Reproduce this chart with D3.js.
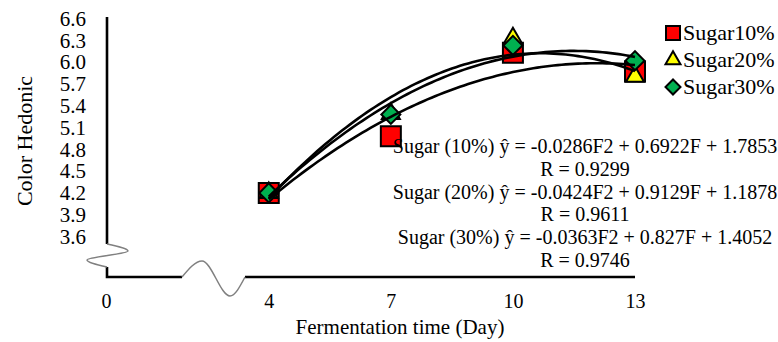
<!DOCTYPE html>
<html>
	<head>
		<meta charset="utf-8">
		<script type="text/javascript" src="https://cdn.jsdelivr.net/npm/d3@7"></script>
		<style>
			body{
				margin:0;
				background:#fff;
			}
			svg text{
				font-family:"Liberation Serif","Times New Roman",serif;
				fill:#000;
			}
		</style>
	</head>
	<body>
		<div id="container"></div>
		<script type="text/javascript">

			// values
			var days = [4, 7, 10, 13];
			var sugar10 = [4.20, 4.98, 6.13, 5.87];
			var sugar20 = [4.20, 5.29, 6.33, 5.80];
			var sugar30 = [4.20, 5.28, 6.23, 6.02];
			var seriesNames = ["Sugar10%", "Sugar20%", "Sugar30%"];
			var yTicks = [3.6, 3.9, 4.2, 4.5, 4.8, 5.1, 5.4, 5.7, 6.0, 6.3, 6.6];
			var xTicks = [0, 4, 7, 10, 13];
			var equationLines = [
				"Sugar (10%) ŷ = -0.0286F2 + 0.6922F + 1.7853",
				"R = 0.9299",
				"Sugar (20%) ŷ = -0.0424F2 + 0.9129F + 1.1878",
				"R = 0.9611",
				"Sugar (30%) ŷ = -0.0363F2 + 0.827F + 1.4052",
				"R = 0.9746"
			];

			var W = 778, H = 342;
			var axisY = 277;

			var svg = d3.select("#container")
				.append("svg")
					.attr("width", W)
					.attr("height", H)
					.style("display", "block");

			var x = d3.scaleLinear().domain([0, 13]).range([106, 635]);
			var y = d3.scaleLinear().domain([3.6, 6.6]).range([236.5, 18.5]);

			var series = [
				{name: seriesNames[0], values: sugar10, shape: "square", fill: "#ff0000"},
				{name: seriesNames[1], values: sugar20, shape: "triangle", fill: "#ffff00"},
				{name: seriesNames[2], values: sugar30, shape: "diamond", fill: "#00b050"}
			];

			// least squares 2nd order trendline (like excel)
			function quadFit(xs, ys){
				var s = [0,0,0,0,0], t = [0,0,0];
				xs.forEach(function(xv, i){
					for(var k=0;k<5;k++) s[k] += Math.pow(xv, k);
					for(var k=0;k<3;k++) t[k] += ys[i]*Math.pow(xv, k);
				});
				var m = [[s[0],s[1],s[2]],[s[1],s[2],s[3]],[s[2],s[3],s[4]]];
				function det(a){
					return a[0][0]*(a[1][1]*a[2][2]-a[1][2]*a[2][1])
						- a[0][1]*(a[1][0]*a[2][2]-a[1][2]*a[2][0])
						+ a[0][2]*(a[1][0]*a[2][1]-a[1][1]*a[2][0]);
				}
				var D = det(m);
				var c = [0,1,2].map(function(col){
					var a = m.map(function(row, r){
						return row.map(function(v, j){ return j === col ? t[r] : v; });
					});
					return det(a)/D;
				});
				return function(xv){ return c[0] + c[1]*xv + c[2]*xv*xv; };
			}

			function symbolPath(shape, size){
				if(shape === "square") return d3.symbol(d3.symbolSquare, size*size)();
				if(shape === "triangle") return d3.symbol(d3.symbolTriangle, Math.sqrt(3)/4*size*size)();
				return d3.symbol(d3.symbolSquare, size*size/2)();
			}

			// axes text
			var yAxis = d3.axisLeft(y)
				.tickValues(yTicks)
				.tickSize(0)
				.tickPadding(20)
				.tickFormat(d3.format(".1f"));

			var xAxis = d3.axisBottom(x)
				.tickValues(xTicks)
				.tickSize(0)
				.tickPadding(17)
				.tickFormat(d3.format("d"));

			var gy = svg.append("g")
				.attr("transform", "translate(" + x(0) + ",0)")
				.call(yAxis)
				.attr("font-family", null)
				.attr("font-size", 21);
			gy.select(".domain").remove();

			var gx = svg.append("g")
				.attr("transform", "translate(0," + axisY + ")")
				.call(xAxis)
				.attr("font-family", null)
				.attr("font-size", 20);
			gx.select(".domain").remove();

			// axis lines with breaks
			var x0 = x(0) + 1;
			svg.append("path")
				.attr("d", "M" + x0 + "," + (y(6.6) - 1.5) + "V244M" + x0 + ",267V" + axisY + "H182M245," + axisY + "H" + x(13))
				.attr("fill", "none")
				.attr("stroke", "#000")
				.attr("stroke-width", 2.6);

			svg.append("path")
				.attr("d", d3.line().curve(d3.curveMonotoneY)([[x0,244],[x0+21,251],[x0-20,260],[x0,267]]))
				.attr("fill", "none")
				.attr("stroke", "#808080")
				.attr("stroke-width", 1.5);

			svg.append("path")
				.attr("d", d3.line().curve(d3.curveMonotoneX)([[182,axisY],[202,261],[230,296],[245,axisY]]))
				.attr("fill", "none")
				.attr("stroke", "#808080")
				.attr("stroke-width", 1.5);

			// markers
			var plot = svg.append("g");
			var msize = {square: 20, triangle: 18, diamond: 19};
			series.forEach(function(s){
				plot.append("g").selectAll("path")
					.data(s.values).enter().append("path")
						.attr("transform", function(d, i){
							return "translate(" + x(days[i]) + "," + y(d) + ")" + (s.shape === "diamond" ? " rotate(45)" : "");
						})
						.attr("d", symbolPath(s.shape, msize[s.shape]))
						.attr("fill", s.fill)
						.attr("stroke", "#000")
						.attr("stroke-width", 2);
			});

			// trendlines
			var line = d3.line()
				.x(function(d){ return x(d[0]); })
				.y(function(d){ return y(d[1]); });
			series.forEach(function(s){
				var f = quadFit(days, s.values);
				var pts = d3.range(4, 13.001, 0.1).map(function(d){ return [d, f(d)]; });
				plot.append("path")
					.attr("d", line(pts))
					.attr("fill", "none")
					.attr("stroke", "#000")
					.attr("stroke-width", 2.6);
			});

			// equations
			svg.append("g").selectAll("text")
				.data(equationLines).enter().append("text")
					.attr("x", 585)
					.attr("y", function(d, i){ return 153 + i*22.8; })
					.attr("text-anchor", "middle")
					.attr("font-size", 20)
					.text(function(d){ return d; });

			// legend
			var legend = svg.append("g");
			series.forEach(function(s, i){
				var cy = 33 + i*27;
				var lsize = {square: 14, triangle: 15, diamond: 15};
				legend.append("path")
					.attr("transform", "translate(673," + cy + ")" + (s.shape === "diamond" ? " rotate(45)" : ""))
					.attr("d", symbolPath(s.shape, lsize[s.shape]))
					.attr("fill", s.fill)
					.attr("stroke", "#000")
					.attr("stroke-width", 2);
				legend.append("text")
					.attr("x", 683)
					.attr("y", cy + 7)
					.attr("font-size", 22)
					.text(s.name);
			});

			// axis titles
			svg.append("text")
				.attr("transform", "translate(32,141) rotate(-90)")
				.attr("text-anchor", "middle")
				.attr("font-size", 22)
				.text("Color Hedonic");

			svg.append("text")
				.attr("x", 400)
				.attr("y", 334)
				.attr("text-anchor", "middle")
				.attr("font-size", 21)
				.text("Fermentation time (Day)");

		</script>
	</body>
</html>
